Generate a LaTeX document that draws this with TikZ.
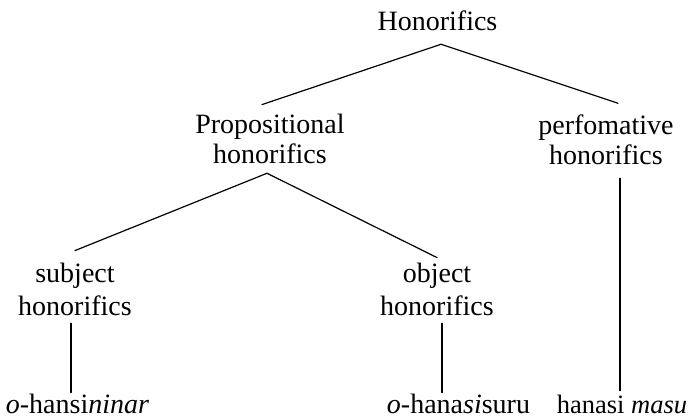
\documentclass[tikz,border=0pt]{standalone}
\usepackage{fontspec}
\setmainfont{Liberation Serif}
\begin{document}
\begin{tikzpicture}[x=1pt,y=-1pt,
  label/.style={inner sep=0pt, outer sep=0pt, align=center, anchor=base,
    font=\fontsize{28}{30}\selectfont},
  branch/.style={line width=1.2pt, line cap=round}]
  \useasboundingbox (0,0) rectangle (688,420);

  % category labels (anchor=base sits on the last line's baseline)
  \node[label] (hon)  at (437.5,31) {Honorifics};
  \node[label] (prop) at (270,163)  {Propositional\\honorifics};
  \node[label] (perf) at (606,164)  {perfomative\\honorifics};
  \node[label] (subj) at (75,315)   {subject\\[3pt]honorifics};
  \node[label] (obj)  at (437,315)  {object\\[3pt]honorifics};

  % example forms
  \node[label] (ohn)  at (77.5,413) {\textit{o}-hansi\textit{ninar}};
  \node[label] (ohs)  at (458.5,413) {\textit{o}-hana\textit{si}suru};
  \node[label, font=\fontsize{26.5}{30}\selectfont] (masu) at (622,413) {hanasi \textit{masu}};

  % branches of the tree
  \coordinate (top)  at ([xshift=3.5,yshift=-13]hon.south);
  \coordinate (mid)  at ([xshift=-3,yshift=-10]prop.south);
  \draw[branch] (top) -- ([xshift=-8,yshift=9]prop.north);
  \draw[branch] (top) -- ([xshift=12,yshift=11]perf.north);
  \draw[branch] (mid) -- ([yshift=12]subj.north);
  \draw[branch] (mid) -- ([yshift=5]obj.north);
  \draw[branch] ([xshift=14,yshift=-14]perf.south) -- ([xshift=-2,yshift=4]masu.north);
  \draw[branch] ([xshift=-4,yshift=-8]subj.south) -- ([xshift=-6.5,yshift=1]ohn.north);
  \draw[branch] ([xshift=5,yshift=-8]obj.south) -- ([xshift=-16.5,yshift=1]ohs.north);
\end{tikzpicture}
\end{document}
